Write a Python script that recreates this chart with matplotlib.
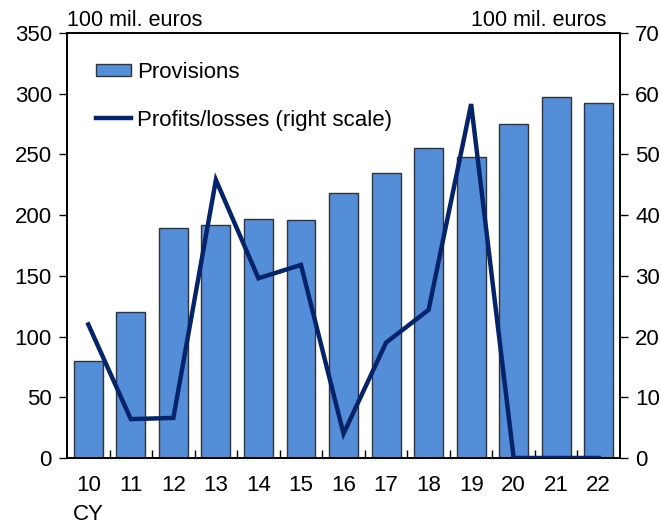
import numpy as np
import matplotlib.pyplot as plt
from matplotlib.lines import Line2D
from matplotlib.patches import Patch

plt.rcParams['font.family'] = ['Liberation Sans', 'DejaVu Sans']

# Daten
years = ["10", "11", "12", "13", "14", "15", "16", "17", "18", "19", "20", "21", "22"]
provisions = [80, 120, 189, 192, 197, 196, 218, 235, 255, 248, 275, 297, 292]
profits = [22, 6.4, 6.6, 45.8, 29.6, 31.8, 4.0, 19.0, 24.4, 58.3, 0, 0, 0]

bar_color = '#548DD8'
line_color = '#06246A'

fig = plt.figure(figsize=(6.61, 5.24), dpi=100)
ax1 = fig.add_axes([0.1014, 0.126, 0.8366, 0.811])
x = np.arange(len(years))

ax1.bar(x, provisions, width=0.68, color=bar_color, edgecolor='#333333', linewidth=1.0, zorder=2)
ax1.set_xlim(-0.5, len(years) - 0.5)
ax1.set_ylim(0, 350)
ax1.set_yticks(np.arange(0, 351, 50))
ax1.tick_params(axis='y', direction='out', length=6, width=1, labelsize=16, pad=5)

# x-Achse: Beschriftung ohne Striche, Striche zwischen den Kategorien
ax1.set_xticks(x)
ax1.set_xticklabels(years)
ax1.tick_params(axis='x', length=0, labelsize=16, pad=12)
ax1.set_xticks(np.arange(0.5, len(years) - 0.5, 1), minor=True)
ax1.tick_params(axis='x', which='minor', direction='in', length=6, width=1)

ax2 = ax1.twinx()
ax2.plot(x, profits, color=line_color, linewidth=3.2, solid_joinstyle='miter', zorder=3)
ax2.set_ylim(0, 70)
ax2.set_yticks(np.arange(0, 71, 10))
ax2.tick_params(axis='y', direction='out', length=6, width=1, labelsize=16, pad=5)

for a in (ax1, ax2):
    for s in a.spines.values():
        s.set_linewidth(1.2)

ax1.text(0.0, 1.005, "100 mil. euros", transform=ax1.transAxes, fontsize=15.5,
         ha='left', va='bottom')
ax1.text(0.975, 1.005, "100 mil. euros", transform=ax1.transAxes, fontsize=15.5,
         ha='right', va='bottom')
ax1.text(0, -0.132, "CY", transform=ax1.get_xaxis_transform(), fontsize=16,
         ha='center', va='center')

handles = [Patch(facecolor=bar_color, edgecolor='#333333', linewidth=1.0),
           Line2D([0], [0], color=line_color, linewidth=3.2)]
leg = ax2.legend(handles, ["Provisions", "Profits/losses (right scale)"],
                 loc='upper left', bbox_to_anchor=(0.052, 0.932), frameon=False,
                 fontsize=16, handlelength=1.6, handleheight=0.5, handletextpad=0.27,
                 labelspacing=1.2, borderpad=0, borderaxespad=0)

fig.savefig("out.png", dpi=100)
